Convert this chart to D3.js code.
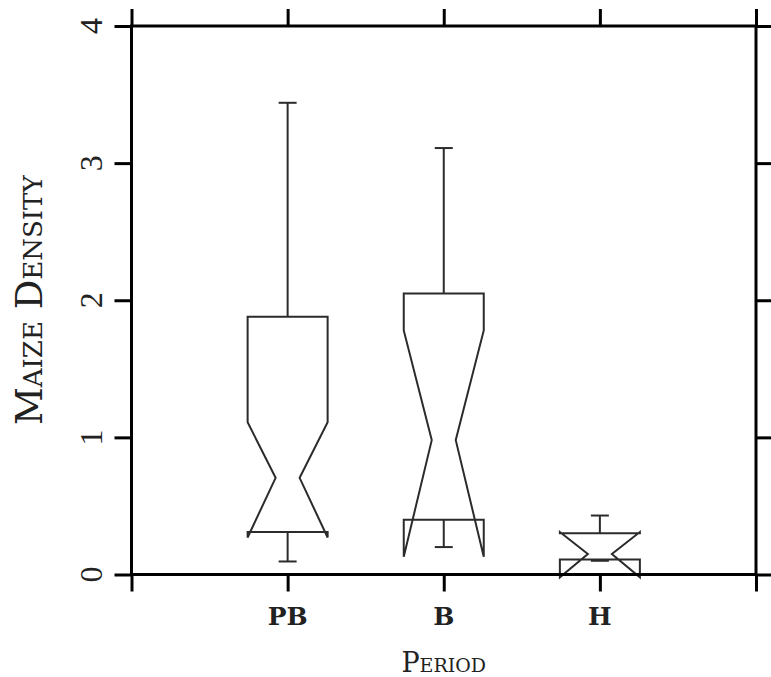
<!DOCTYPE html>
<html lang="en">
<head>
    <meta charset="UTF-8">
    <title>Maize Density by Period</title>
    <script type="text/javascript" src="https://cdn.jsdelivr.net/npm/d3@7"></script>
    <style type="text/css">
        body { margin: 0; background: white; }
        .frame { fill: none; stroke: black; stroke-width: 3; }
        .tick line { stroke: black; stroke-width: 3; }
        .box { fill: none; stroke: #2b2b2b; stroke-width: 2; stroke-linejoin: miter; }
        .whisker { stroke: #2b2b2b; stroke-width: 2; }
        .ylab { font-family: "Liberation Serif", serif; font-size: 32px; fill: #222; }
        .xlab { font-family: "DejaVu Serif", serif; font-size: 25px; font-weight: bold; fill: #222; }
        .title { font-family: "DejaVu Serif", serif; font-variant: small-caps; fill: #222; }
    </style>
</head>
<body>
<script type="text/javascript">
    // data
    var categories = ["PB", "B", "H"];
    var catPos = [1, 2, 3];
    var whiskerHigh = [3.44, 3.11, 0.43];
    var upperQuartile = [1.88, 2.05, 0.30];
    var notchHigh = [1.11, 1.78, 0.31];
    var medians = [0.705, 0.98, 0.15];
    var notchLow = [0.27, 0.13, -0.02];
    var lowerQuartile = [0.31, 0.40, 0.11];
    var whiskerLow = [0.095, 0.20, 0.10];
    var yTicks = [0, 1, 2, 3, 4];
    var xTicks = [0, 1, 2, 3, 4];

    var width = 771;
    var height = 677;
    var plotLeft = 131.5, plotRight = 756, plotTop = 26, plotBottom = 574.5;
    var tickLen = 17;
    var halfBox = 40, indent = 12, halfCap = 9;

    var x = d3.scaleLinear().domain([0, 4]).range([plotLeft, plotRight]);
    var y = d3.scaleLinear().domain([0, 4]).range([plotBottom, plotTop]);

    var svg = d3.select('body')
        .append('svg')
        .attr('width', width)
        .attr('height', height);

    var boxes = categories.map(function(c, i) {
        return {
            name: c, at: catPos[i],
            hi: whiskerHigh[i], q3: upperQuartile[i], nhi: notchHigh[i],
            med: medians[i], nlo: notchLow[i], q1: lowerQuartile[i], lo: whiskerLow[i]
        };
    });

    var line = d3.line();
    var outline = function(d) {
        var cx = x(d.at);
        var l = cx - halfBox, r = cx + halfBox;
        return line([
            [l, y(d.q1)], [l, y(d.nlo)], [cx - indent, y(d.med)], [l, y(d.nhi)], [l, y(d.q3)],
            [r, y(d.q3)], [r, y(d.nhi)], [cx + indent, y(d.med)], [r, y(d.nlo)], [r, y(d.q1)]
        ]) + 'Z';
    };

    var g = svg.selectAll('g.bw')
        .data(boxes)
        .enter()
        .append('g')
        .attr('class', 'bw');

    // whiskers
    g.append('line').attr('class', 'whisker')
        .attr('x1', function(d) { return x(d.at) }).attr('x2', function(d) { return x(d.at) })
        .attr('y1', function(d) { return y(d.q3) }).attr('y2', function(d) { return y(d.hi) });
    g.append('line').attr('class', 'whisker')
        .attr('x1', function(d) { return x(d.at) }).attr('x2', function(d) { return x(d.at) })
        .attr('y1', function(d) { return y(d.q1) }).attr('y2', function(d) { return y(d.lo) });
    g.append('line').attr('class', 'whisker')
        .attr('x1', function(d) { return x(d.at) - halfCap }).attr('x2', function(d) { return x(d.at) + halfCap })
        .attr('y1', function(d) { return y(d.hi) }).attr('y2', function(d) { return y(d.hi) });
    g.append('line').attr('class', 'whisker')
        .attr('x1', function(d) { return x(d.at) - halfCap }).attr('x2', function(d) { return x(d.at) + halfCap })
        .attr('y1', function(d) { return y(d.lo) }).attr('y2', function(d) { return y(d.lo) });
    g.append('path').attr('class', 'box').attr('d', outline);

    // ticks on all four sides
    svg.append('g').attr('class', 'axis')
        .attr('transform', `translate(${plotLeft}, 0)`)
        .call(d3.axisLeft(y).tickValues(yTicks).tickSize(tickLen).tickFormat(''));
    svg.append('g').attr('class', 'axis')
        .attr('transform', `translate(${plotRight}, 0)`)
        .call(d3.axisRight(y).tickValues(yTicks).tickSize(tickLen + 4).tickFormat(''));
    svg.append('g').attr('class', 'axis')
        .attr('transform', `translate(0, ${plotBottom})`)
        .call(d3.axisBottom(x).tickValues(xTicks).tickSize(tickLen).tickFormat(''));
    svg.append('g').attr('class', 'axis')
        .attr('transform', `translate(0, ${plotTop})`)
        .call(d3.axisTop(x).tickValues(xTicks).tickSize(tickLen).tickFormat(''));
    svg.selectAll('.axis .domain').remove();

    svg.append('rect').attr('class', 'frame')
        .attr('x', plotLeft).attr('y', plotTop)
        .attr('width', plotRight - plotLeft).attr('height', plotBottom - plotTop);

    // tick labels
    svg.selectAll('text.ylab')
        .data(yTicks)
        .enter()
        .append('text')
        .attr('class', 'ylab')
        .attr('text-anchor', 'middle')
        .attr('transform', function(d) { return `translate(102, ${y(d)}) rotate(-90)` })
        .text(function(d) { return d });

    svg.selectAll('text.xlab')
        .data(boxes)
        .enter()
        .append('text')
        .attr('class', 'xlab')
        .attr('text-anchor', 'middle')
        .attr('x', function(d) { return x(d.at) })
        .attr('y', 625)
        .text(function(d) { return d.name });

    // axis titles
    svg.append('text').attr('class', 'title')
        .attr('text-anchor', 'middle')
        .style('font-size', '27px')
        .attr('x', (plotLeft + plotRight) / 2).attr('y', 672)
        .text('Period');
    svg.append('text').attr('class', 'title')
        .attr('text-anchor', 'middle')
        .style('font-size', '37px')
        .attr('transform', `translate(42, ${(plotTop + plotBottom) / 2}) rotate(-90)`)
        .text('Maize Density');
</script>
</body>
</html>
